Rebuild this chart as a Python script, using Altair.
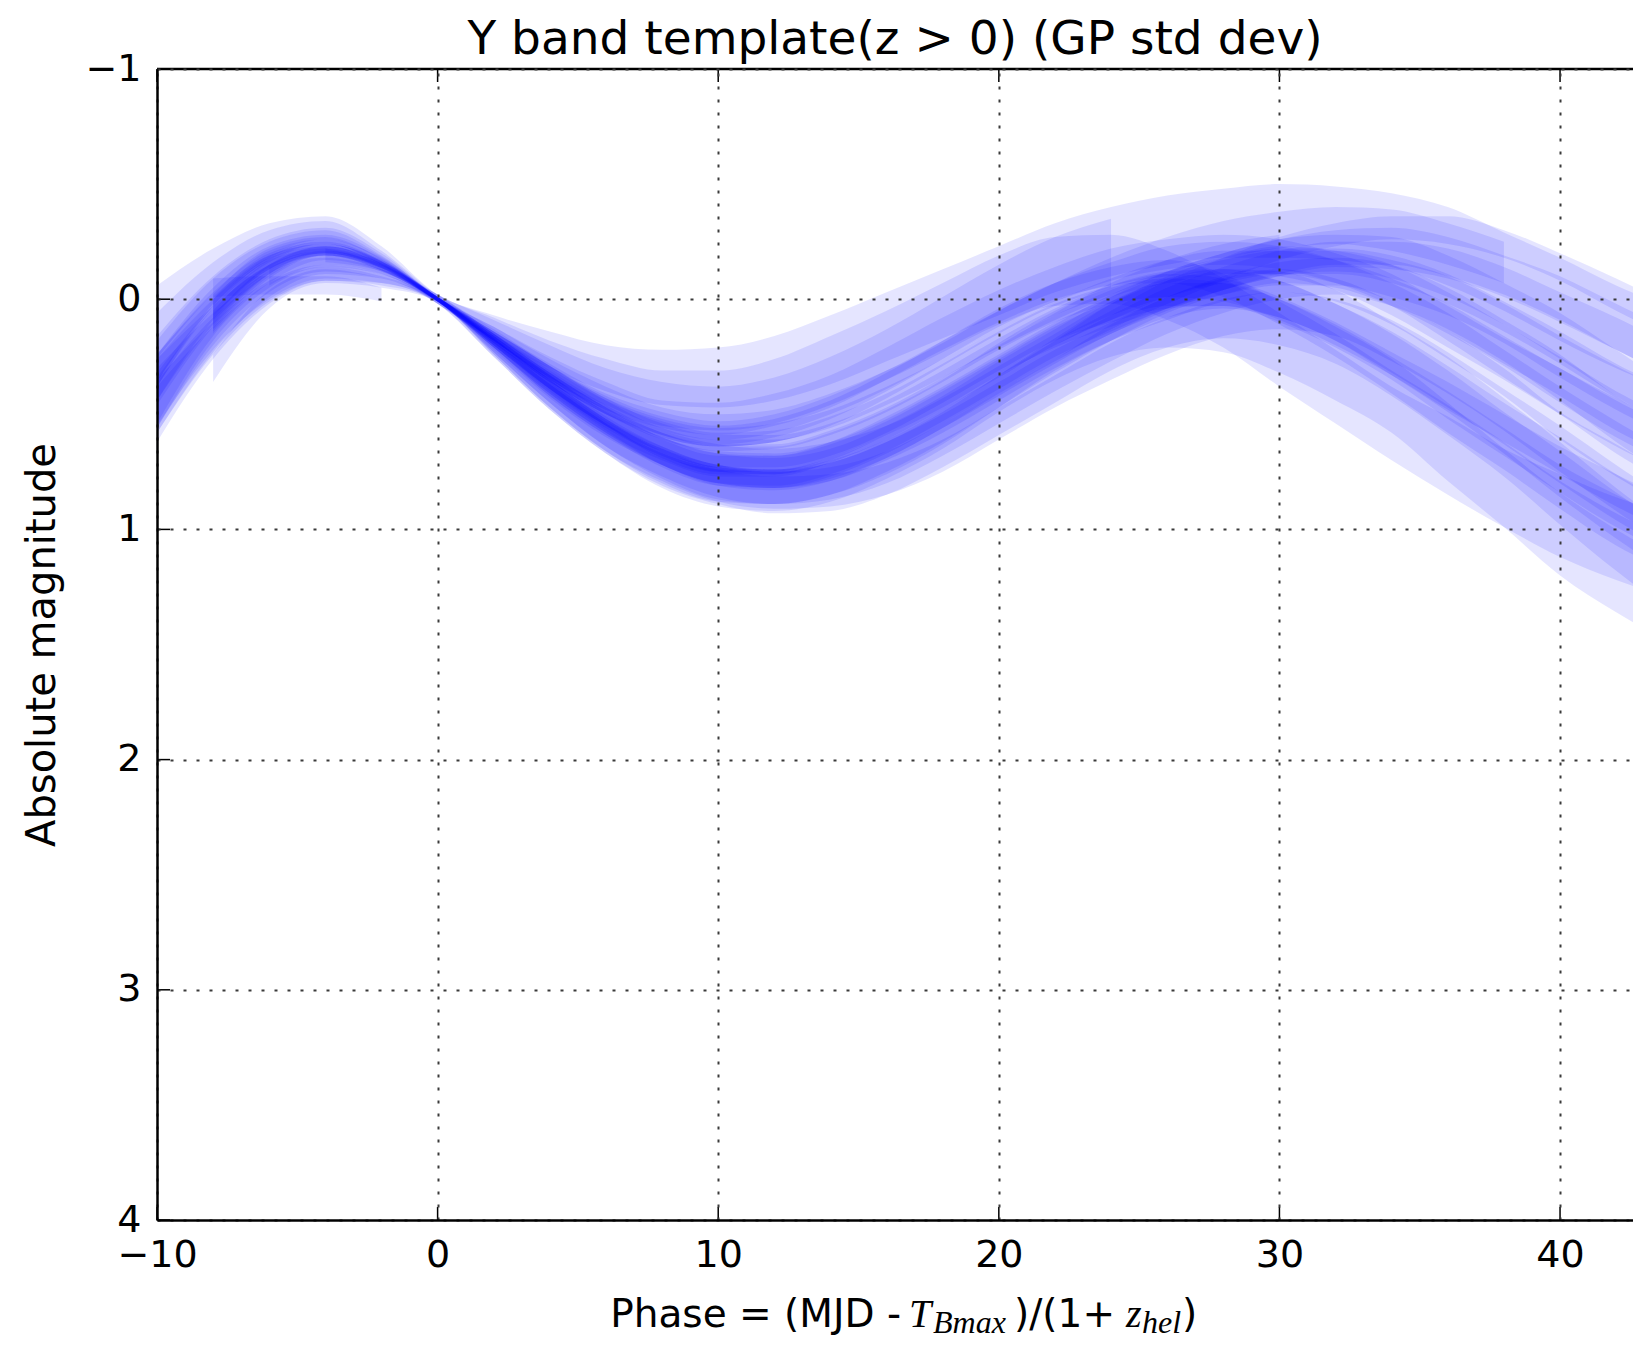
import altair as alt
import pandas as pd

# ---------------- data ----------------
phases = [-10, -8, -6, -4, -2, 0, 2, 4, 6, 8, 10, 12, 14, 16, 18, 20,
          22, 24, 26, 28, 30, 32, 34, 36, 38, 40, 42, 44]

x_ticks = [-10, 0, 10, 20, 30, 40]
y_ticks = [-1, 0, 1, 2, 3, 4]

sig_narrow = [0.06, 0.04, 0.03, 0.02, 0.015, 0.01, 0.02, 0.03, 0.03, 0.04, 0.04, 0.04, 0.04, 0.04,
              0.04, 0.04, 0.04, 0.04, 0.05, 0.05, 0.05, 0.05, 0.05, 0.06, 0.06, 0.06, 0.07, 0.07]
sig_med = [0.10, 0.06, 0.04, 0.03, 0.02, 0.01, 0.03, 0.05, 0.06, 0.06, 0.07, 0.07, 0.07, 0.07,
           0.07, 0.07, 0.07, 0.08, 0.08, 0.08, 0.08, 0.08, 0.09, 0.09, 0.09, 0.10, 0.10, 0.10]
sig_wide = [0.16, 0.10, 0.07, 0.05, 0.03, 0.02, 0.05, 0.08, 0.10, 0.12, 0.13, 0.14, 0.15, 0.15,
            0.15, 0.15, 0.15, 0.15, 0.15, 0.15, 0.16, 0.16, 0.16, 0.17, 0.17, 0.18, 0.18, 0.18]
sig_short = [0.04, 0.04, 0.04, 0.04, 0.03]

b01 = [0.44, 0.10, -0.11, -0.20, -0.14, 0.00, 0.20, 0.40, 0.58, 0.72, 0.80, 0.82, 0.78, 0.68,
       0.55, 0.40, 0.25, 0.10, -0.02, -0.10, -0.15, -0.13, -0.06, 0.06, 0.20, 0.35, 0.50, 0.62]
b02 = [None, 0.03, -0.16, -0.22, -0.15, 0.00, 0.17, 0.33, 0.47, 0.57, 0.62, 0.61, 0.55, 0.45,
       0.32, 0.18, 0.06, -0.02, -0.06, -0.04, 0.04, 0.15, 0.28, 0.42, 0.56, 0.70, 0.83, 0.95]
b03 = [0.22, -0.06, -0.23, -0.29, -0.18, 0.00, 0.13, 0.26, 0.36, 0.43, 0.44, 0.40, 0.31, 0.20,
       0.08, -0.04, -0.12, -0.13, -0.06, 0.06, 0.22, 0.38, 0.54, 0.68, 0.82, 0.94, 1.04, 1.12]
b04 = [0.45, 0.16, -0.04, -0.12, -0.09, 0.00, 0.21, 0.42, 0.60, 0.73, 0.81, 0.84, 0.83, 0.78,
       0.68, 0.54, 0.40, 0.27, 0.16, 0.08, 0.05, 0.08, 0.18, 0.32, 0.48, 0.65, 0.82, 0.98]
b05 = [None, 0.06, -0.15, -0.21, -0.14, 0.00, 0.18, 0.36, 0.52, 0.65, 0.72, 0.72, 0.66, 0.55,
       0.42, 0.28, 0.14, 0.03, -0.06, -0.12, -0.16, -0.16, -0.12, -0.04, 0.08, 0.22, 0.36, 0.48]
b06 = [0.28, -0.03, -0.21, -0.27, -0.17, 0.00, 0.15, 0.30, 0.42, 0.50, 0.52, 0.48, 0.40, 0.28,
       0.15, 0.03, -0.07, -0.14, -0.18, -0.20, -0.18, -0.12, -0.02, 0.12, 0.26, 0.40, 0.54, 0.66]
b07 = [0.10, -0.12, -0.26, -0.31, -0.20, 0.00, 0.12, 0.22, 0.30, 0.34, 0.34, 0.30, 0.22, 0.12,
       0.02, -0.08, -0.18, -0.25, -0.30, -0.33, -0.34, -0.33, -0.30, -0.23, -0.12, 0.00, 0.12, 0.22]
b08 = [None, 0.10, -0.13, -0.21, -0.14, 0.00, 0.19, 0.38, 0.55, 0.68, 0.76, 0.78, 0.74, 0.65,
       0.52, 0.38, 0.24, 0.11, 0.00, -0.09, -0.16, -0.20, -0.20, -0.16, -0.08, 0.03, 0.15, 0.27]
b09 = [0.48, 0.18, -0.03, -0.11, -0.08, 0.00, 0.21, 0.42, 0.60, 0.74, 0.81, 0.82, 0.78, 0.69,
       0.56, 0.40, 0.24, 0.10, 0.00, -0.04, 0.00, 0.10, 0.24, 0.40, 0.58, 0.76, 0.94, 1.10]
b10 = [0.42, 0.13, -0.08, -0.16, -0.12, 0.00, 0.20, 0.40, 0.57, 0.70, 0.77, 0.78, 0.73, 0.63,
       0.50, 0.34, 0.20, 0.10, 0.06, 0.08, 0.16, 0.28, 0.42, 0.62, 0.82, 1.02, 1.18, 1.32]
b11 = [None, 0.04, -0.17, -0.23, -0.15, 0.00, 0.16, 0.32, 0.46, 0.56, 0.60, 0.58, 0.52, 0.42,
       0.30, 0.17, 0.05, -0.05, -0.12, -0.16, -0.16, -0.12, -0.04, 0.08, 0.22, 0.36, 0.50, 0.62]
b12 = [0.38, 0.07, -0.14, -0.20, -0.14, 0.00, 0.18, 0.37, 0.54, 0.68, 0.76, 0.78, 0.75, 0.66,
       0.54, 0.40, 0.26, 0.14, 0.04, -0.04, -0.08, -0.04, 0.06, 0.20, 0.36, 0.55, 0.70, 0.84]
b13 = [None, 0.30, 0.00, -0.10, -0.07, 0.00, 0.16, 0.34, 0.50, 0.62, 0.68, 0.68, 0.62, 0.52,
       0.40, 0.26, 0.14, 0.04, -0.04, -0.10, -0.14, -0.14, -0.10, -0.02, 0.10, 0.24, 0.38, 0.50]
b14 = [0.30, -0.01, -0.20, -0.26, -0.17, 0.00, 0.16, 0.32, 0.45, 0.55, 0.59, 0.56, 0.48, 0.36,
       0.22, 0.08, -0.03, -0.10, -0.12, -0.06, 0.06, 0.20, 0.36, 0.52, 0.68, 0.85, 1.00, 1.12]
b15 = [0.40, 0.08, -0.12, -0.19, -0.14, 0.00, 0.14, 0.28, 0.40, 0.48, 0.51, 0.48, 0.40, 0.28,
       0.14, 0.00, -0.12, -0.20]
b16 = [None, -0.05, -0.06, -0.06, -0.02]
b17 = [None, 0.11, -0.12, -0.21, -0.15, 0.00, 0.19, 0.39, 0.56, 0.69, 0.77, 0.78, 0.73, 0.63,
       0.50, 0.36, 0.22, 0.09, -0.03, -0.13, -0.22, -0.28, -0.31, -0.30, -0.24, -0.14, -0.02, 0.10]
b18 = [0.34, 0.03, -0.17, -0.23, -0.16, 0.00, 0.17, 0.34, 0.49, 0.60, 0.66, 0.66, 0.61, 0.51,
       0.38, 0.24, 0.11, 0.02, -0.04, -0.05, 0.00, 0.10, 0.23, 0.38, 0.54, 0.70, 0.86, 1.00]
b19 = [0.46, 0.14, -0.07, -0.15, -0.11, 0.00, 0.20, 0.40, 0.58, 0.71, 0.79, 0.82, 0.80, 0.73,
       0.61, 0.47, 0.33, 0.19, 0.07, -0.02, -0.08, -0.10, -0.06, 0.04, 0.18, 0.34, 0.52, 0.68]
b20 = [0.26, -0.04, -0.22, -0.28, -0.18, 0.00, 0.15, 0.31, 0.44, 0.53, 0.57, 0.55, 0.48, 0.38,
       0.26, 0.12, 0.00, -0.10, -0.19, -0.26, -0.30, -0.32, -0.30, -0.24, -0.16]
b21 = [None, 0.09, -0.14, -0.22, -0.15, 0.00, 0.18, 0.36, 0.52, 0.64, 0.71, 0.72, 0.67, 0.57,
       0.44, 0.30, 0.16, 0.05, -0.02, -0.02, 0.05, 0.16, 0.30, 0.46, 0.62, 0.78, 0.92, 1.04]
b22 = [None, None, -0.10, -0.18, -0.13, 0.00, 0.19, 0.38, 0.54, 0.66, 0.73, 0.74, 0.69, 0.59,
       0.46, 0.32, 0.18, 0.06, -0.04, -0.12, -0.18, -0.22, -0.22, -0.18, -0.10, 0.00, 0.12, 0.24]
b23 = [0.46, 0.16, -0.05, -0.13, -0.10, 0.00, 0.20, 0.40, 0.57, 0.69, 0.76, 0.79, 0.77, 0.70,
       0.58, 0.44, 0.30, 0.16, 0.06, 0.02, 0.04, 0.12, 0.26, 0.42, 0.60, 0.80, 1.00, 1.18]
b24 = [None, 0.02, -0.19, -0.25, -0.16, 0.00, 0.16, 0.31, 0.44, 0.53, 0.57, 0.54, 0.46, 0.35,
       0.22, 0.09, -0.03, -0.12, -0.18, -0.20, -0.18, -0.12, -0.02, 0.12, 0.28, 0.44, 0.60, 0.74]
b25 = [0.36, 0.06, -0.15, -0.22, -0.15, 0.00, 0.18, 0.36, 0.52, 0.64, 0.70, 0.70, 0.64, 0.54,
       0.41, 0.27, 0.13, 0.01, -0.09, -0.16, -0.20]
b26 = [None, None, None, -0.19, -0.14, 0.00, 0.18, 0.37, 0.53, 0.66, 0.74, 0.76, 0.72, 0.62,
       0.49, 0.34, 0.20, 0.07, -0.04, -0.12, -0.18, -0.20, -0.18, -0.10, 0.02, 0.16, 0.32, 0.48]

bands = [
    ("b01", b01, sig_med), ("b02", b02, sig_narrow), ("b03", b03, sig_wide),
    ("b04", b04, sig_med), ("b05", b05, sig_narrow), ("b06", b06, sig_med),
    ("b07", b07, sig_wide), ("b08", b08, sig_narrow), ("b09", b09, sig_med),
    ("b10", b10, sig_wide), ("b11", b11, sig_narrow), ("b12", b12, sig_narrow),
    ("b13", b13, sig_med), ("b14", b14, sig_narrow), ("b15", b15, sig_wide),
    ("b16", b16, sig_short), ("b17", b17, sig_narrow), ("b18", b18, sig_med),
    ("b19", b19, sig_med), ("b20", b20, sig_med), ("b21", b21, sig_narrow),
    ("b22", b22, sig_med), ("b23", b23, sig_wide), ("b24", b24, sig_narrow),
    ("b25", b25, sig_med), ("b26", b26, sig_med),
]

rows = []
for name, centers, sig in bands:
    for p, c, s in zip(phases, centers, sig):
        if c is None:
            continue
        rows.append({"band": name, "phase": p, "lo": c - s, "hi": c + s})
df = pd.DataFrame(rows)

# ---------------- layout ----------------
W = 1476
H = 1151
FONT = "DejaVu Sans"
SERIF = "Liberation Serif"

x_scale = alt.Scale(domain=[-10, 42.6], nice=False, zero=False)
y_scale = alt.Scale(domain=[-1, 4], reverse=True, nice=False, zero=False)

grid_common = dict(grid=True, gridColor="#3a3a3a", gridWidth=2, gridDash=[3, 10],
                   domainColor="black", domainWidth=2.5, ticks=False, tickSize=0,
                   labelFont=FONT, labelFontSize=38, labelColor="black",
                   labelPadding=16, labelFlush=False, labelOverlap=False, zindex=1)

x_axis = alt.Axis(values=x_ticks, title=None, format="d", **grid_common)
y_axis = alt.Axis(values=y_ticks, format="d", title="Absolute magnitude",
                  titleFont=FONT, titleFontSize=40, titleFontWeight="normal",
                  titleColor="black", titleAngle=270, titleX=-115, titleY=H / 2,
                  titleAlign="center", titleBaseline="middle", **grid_common)

bands_layer = alt.Chart(df).mark_area(
    color="#0000ff", opacity=0.1, interpolate="monotone", clip=True
).encode(
    x=alt.X("phase:Q", scale=x_scale, axis=x_axis),
    y=alt.Y("lo:Q", scale=y_scale, axis=y_axis),
    y2="hi:Q",
    detail="band:N",
)

xt = pd.DataFrame({"phase": x_ticks})
yt = pd.DataFrame({"lo": y_ticks})
tick_bottom = alt.Chart(xt).mark_rule(color="black", strokeWidth=1.5).encode(
    x=alt.X("phase:Q", scale=x_scale, axis=x_axis), y=alt.value(H), y2=alt.value(H - 13))
tick_top = alt.Chart(xt).mark_rule(color="black", strokeWidth=1.5).encode(
    x=alt.X("phase:Q", scale=x_scale, axis=x_axis), y=alt.value(0), y2=alt.value(13))
tick_left = alt.Chart(yt).mark_rule(color="black", strokeWidth=1.5).encode(
    y=alt.Y("lo:Q", scale=y_scale, axis=y_axis), x=alt.value(0), x2=alt.value(13))
top_border = alt.Chart(pd.DataFrame({"v": [0]})).mark_rule(color="black", strokeWidth=2.5).encode(
    x=alt.value(0), x2=alt.value(W), y=alt.value(0))

# x-axis title composed of pieces (plain text + math-style italic with subscripts)
title_base = H + 107


def piece(text, x, dy, font, size, italic, align="left"):
    return alt.Chart(pd.DataFrame({"t": [text]})).mark_text(
        font=font, fontSize=size, fontStyle="italic" if italic else "normal",
        align=align, baseline="alphabetic", color="black"
    ).encode(text="t:N", x=alt.value(x), y=alt.value(title_base + dy))


xtitle = [
    piece("Phase = (MJD -", 744, 0, FONT, 39, False, align="right"),
    piece("T", 752, 0, SERIF, 40, True),
    piece("Bmax", 776, 6, SERIF, 32, True),
    piece(")/(1+", 857, 0, FONT, 39, False),
    piece("z", 969, 0, SERIF, 40, True),
    piece("hel", 985, 6, SERIF, 32, True),
    piece(")", 1025, 0, FONT, 39, False),
]

chart = alt.layer(
    bands_layer, tick_bottom, tick_top, tick_left, top_border, *xtitle
).properties(
    width=W,
    height=H,
    autosize=alt.AutoSizeParams(type="none"),
    padding={"left": 149, "top": 61, "right": 0, "bottom": 120},
    title=alt.Title("Y band template(z > 0) (GP std dev)", font=FONT, fontSize=47,
                    fontWeight="normal", color="black", anchor="middle", offset=-14),
).configure_view(stroke=None)

chart.save("out.html", embed_options={"renderer": "svg", "actions": False})
